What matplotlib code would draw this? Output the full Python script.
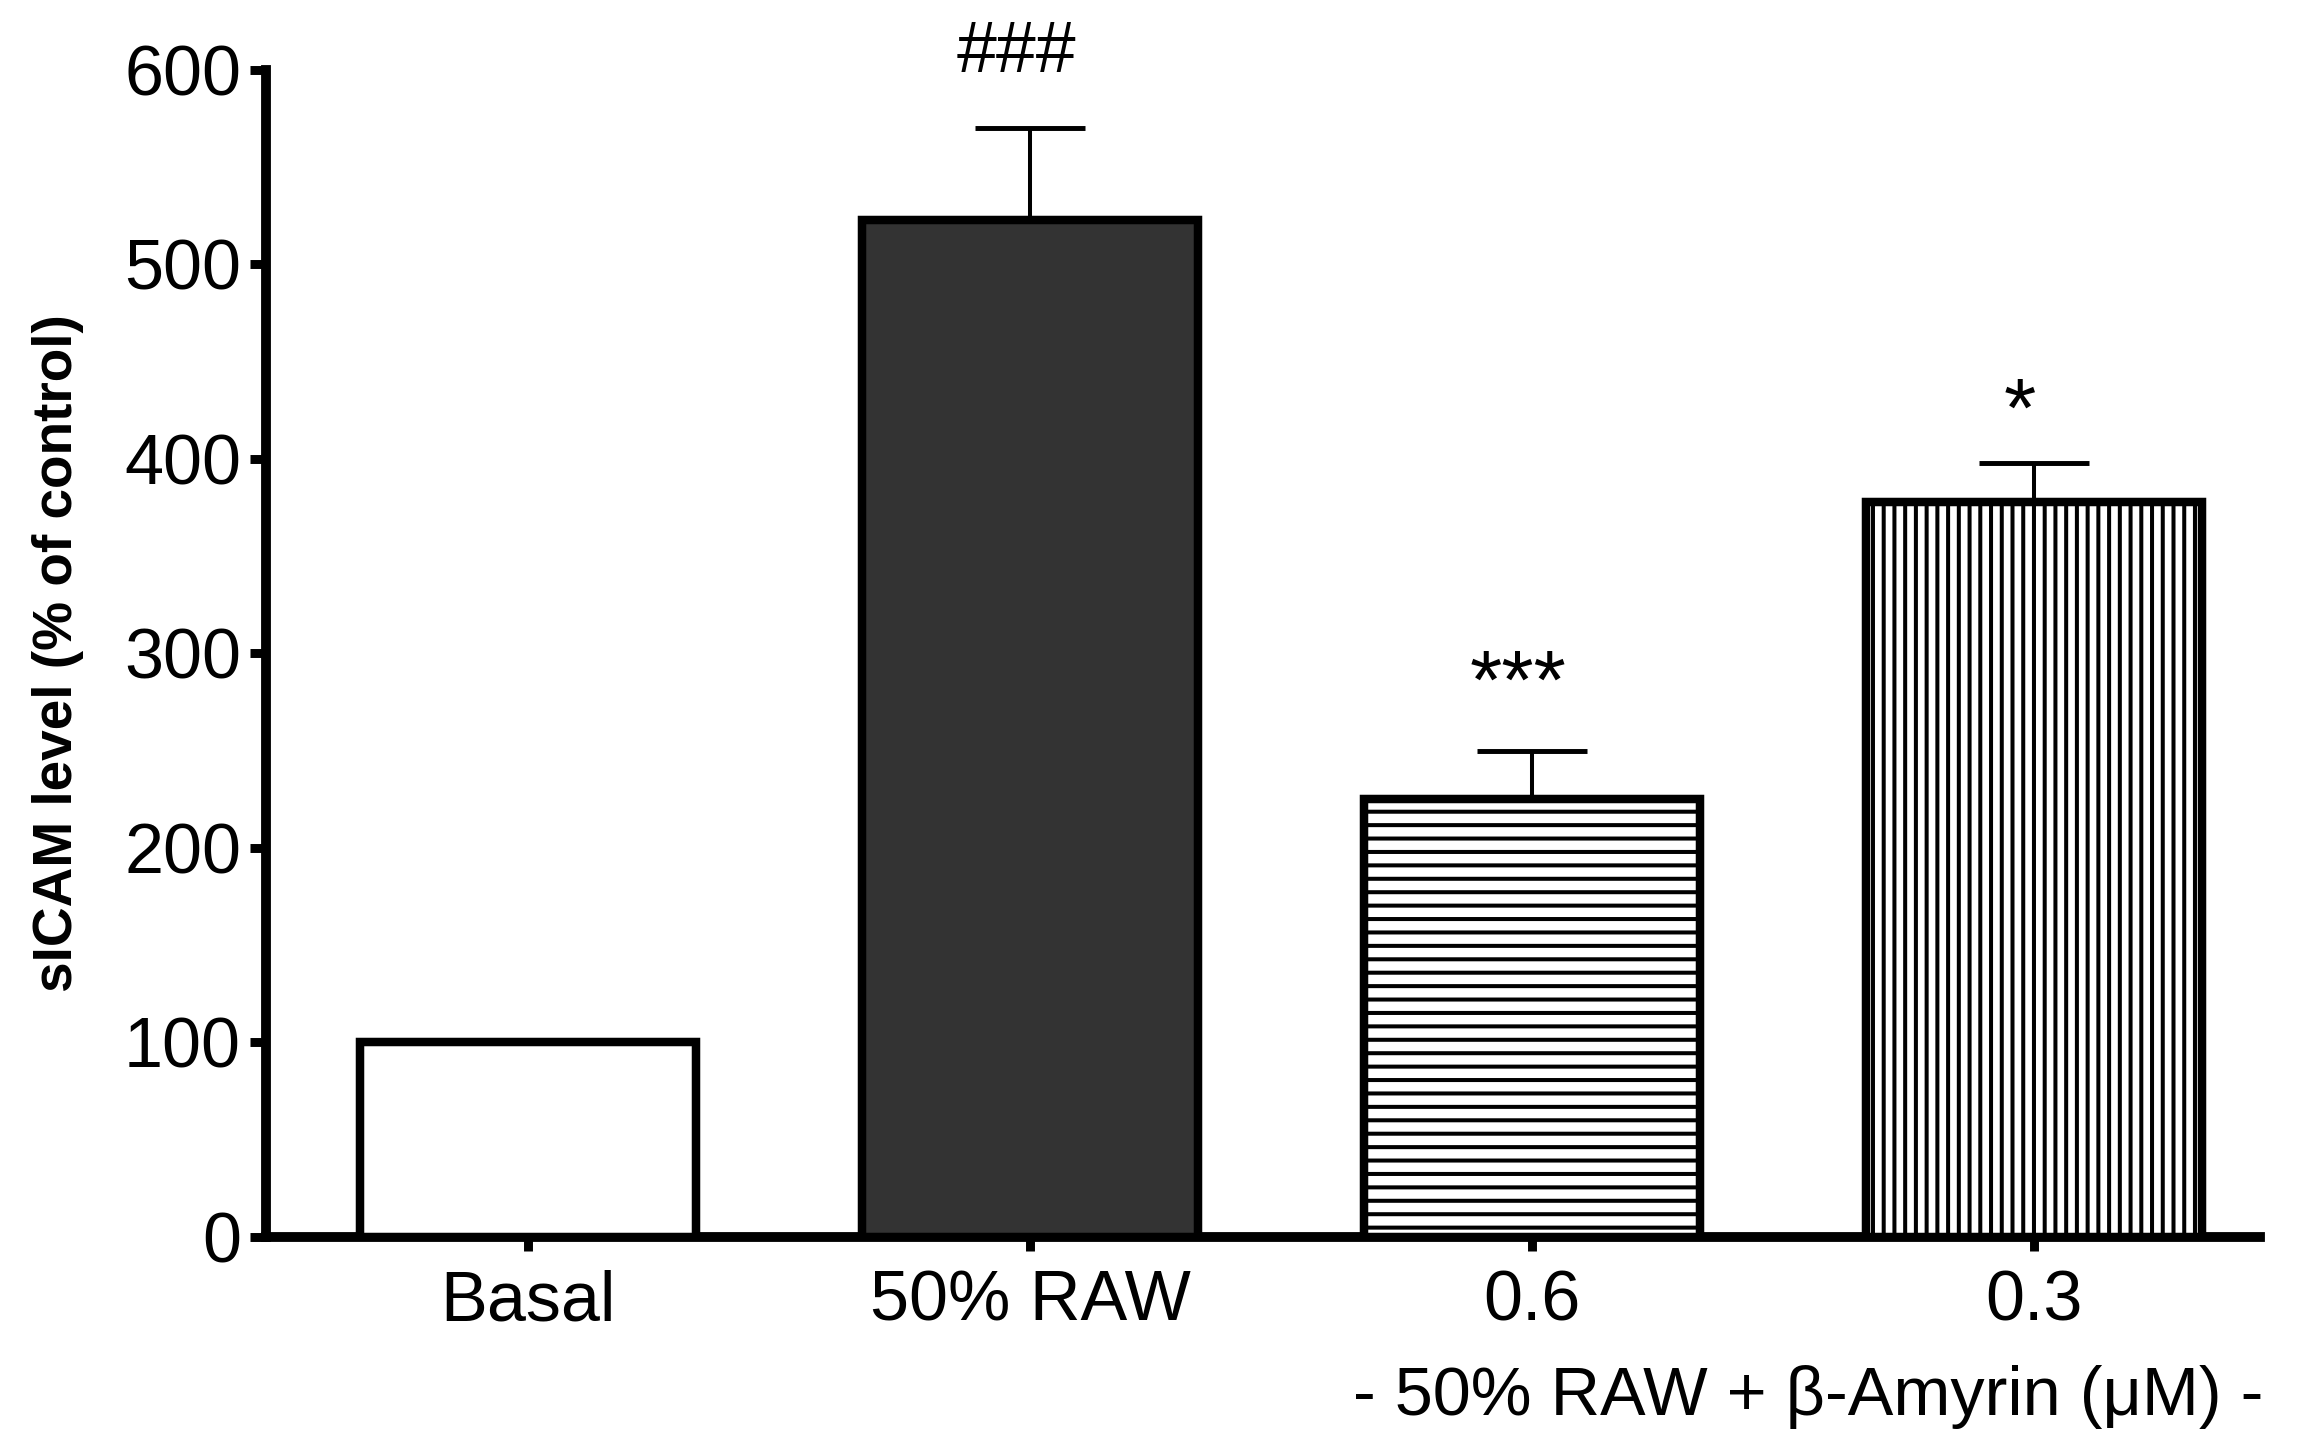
import matplotlib
matplotlib.use("Agg")
import matplotlib.pyplot as plt
import numpy as np

categories = ["Basal", "50% RAW", "0.6", "0.3"]
values = [100, 523, 225, 378]
errors = [0, 47, 25, 20]
annotations = ["", "###", "***", "*"]
annot_y = [None, 608.5, 283, 423]
annot_size = [None, 16, 18.5, 18.5]
fill_colors = ["white", "#333333", "white", "white"]
hatches = [None, None, "----", "|||||"]
yticks = [0, 100, 200, 300, 400, 500, 600]
group_label = "- 50% RAW + β-Amyrin (μM) -"
ylabel = "sICAM level (% of control)"

DPI = 322
plt.rcParams['hatch.linewidth'] = 0.9
plt.rcParams['font.family'] = ['Liberation Sans', 'DejaVu Sans']

fig = plt.figure(figsize=(2324 / DPI, 1446 / DPI), dpi=DPI)
ax = fig.add_axes([0.1145, 0.1446, 0.858, 0.807])

x = np.arange(len(categories))
for i in range(len(categories)):
    ax.bar(x[i], values[i], width=0.67, color=fill_colors[i], edgecolor="black",
           linewidth=1.9, hatch=hatches[i], zorder=3)

idx = [i for i in range(len(values)) if errors[i] > 0]
ax.errorbar(x[idx], [values[i] for i in idx],
            yerr=[[0] * len(idx), [errors[i] for i in idx]],
            fmt='none', ecolor='black', elinewidth=0.9, capsize=12.3, capthick=1.1, zorder=2)

for i, a in enumerate(annotations):
    if a:
        ax.text(x[i] - 0.028, annot_y[i], a, ha='center', va='center',
                fontsize=annot_size[i], clip_on=False)

ax.set_xlim(-0.522, 3.45)
ax.set_ylim(0, 600)
ax.set_yticks(yticks)
ax.set_yticklabels([str(t) for t in yticks])
ax.set_xticks(x)
ax.set_xticklabels(categories)

for s in ['top', 'right']:
    ax.spines[s].set_visible(False)
for s in ['left', 'bottom']:
    ax.spines[s].set_linewidth(2.2)

ax.tick_params(axis='y', length=3.6, width=2.0, labelsize=15.7, pad=2)
ax.tick_params(axis='x', length=3.2, width=2.0, labelsize=15.7, pad=4)

ax.set_ylabel(ylabel, fontsize=12.3, fontweight='bold')
ax.yaxis.set_label_coords(-0.0913, 0.5)

ax.text(2.55, -0.137, group_label, transform=ax.get_xaxis_transform(),
        ha='center', va='center', fontsize=15.3)

fig.savefig("out.png", dpi=DPI)
